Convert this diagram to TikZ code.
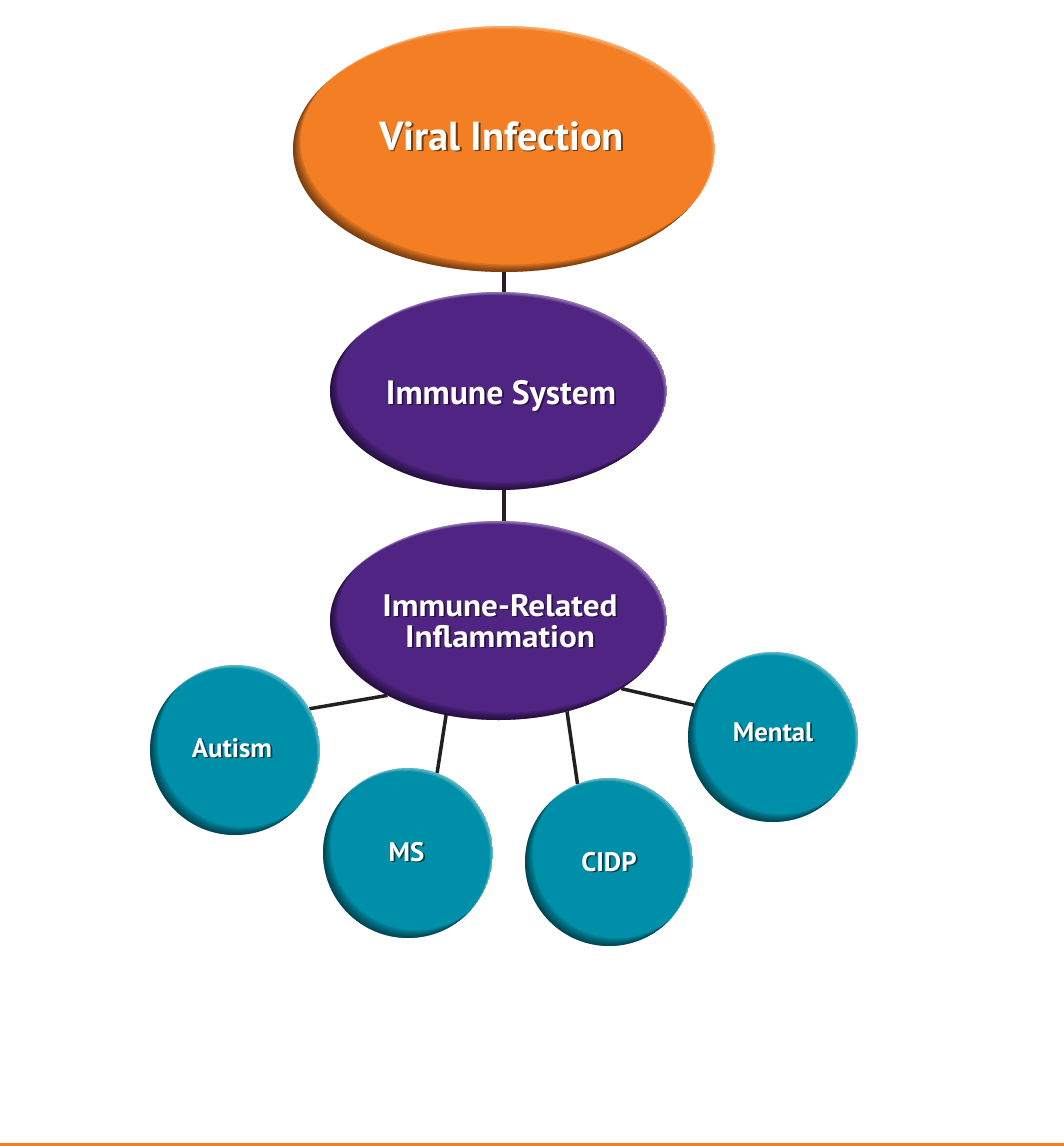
\documentclass[tikz,border=0pt]{standalone}
\usepackage{fontspec}
\setmainfont{PT Sans}
\newfontfamily\widesans[FakeStretch=1.07]{PT Sans}
\usetikzlibrary{shapes.geometric}

\definecolor{viralorange}{RGB}{243,126,35}
\definecolor{immunepurple}{RGB}{80,36,130}
\definecolor{diseaseteal}{RGB}{0,143,168}
\definecolor{linkgray}{RGB}{35,31,32}

\pgfdeclarelayer{paper}
\pgfdeclarelayer{bg}
\pgfsetlayers{paper,bg,main}

\tikzset{
  hub/.style={shape=ellipse, draw=none, inner sep=0pt, outer sep=0pt},
  lbl/.style={anchor=base, inner sep=0pt, outer sep=0pt, text=white, align=center},
  link/.style={draw=linkgray, line width=3.5pt},
  rule/.style={fill=viralorange},
}

% bevelled bubble: name, x, y, x radius, y radius, colour
\newcommand\bubble[6]{%
  \begin{scope}
    \clip (#2,#3) ellipse ({#4} and {#5});
    \fill[#6] (#2,#3) ellipse ({#4} and {#5});
    \foreach \d in {1.5,3,4.5,6,7.5}
      \fill[black,opacity=0.12,even odd rule]
        (#2,#3) ellipse ({#4+15} and {#5+15})
        (#2+\d,#3-\d) ellipse ({#4} and {#5});
    \foreach \d in {1,2,3}
      \fill[white,opacity=0.14,even odd rule]
        (#2,#3) ellipse ({#4+15} and {#5+15})
        (#2-\d,#3+\d) ellipse ({#4} and {#5});
  \end{scope}
  \node[hub, minimum width={2*#4}, minimum height={2*#5}] (#1) at (#2,#3) {};
}

% one line of white text over a darker copy shifted down and right
\newcommand\shadowed[2]{\rlap{\kern1.7pt\raisebox{-1.7pt}{\color{#1}#2}}#2}

\begin{document}
\begin{tikzpicture}[x=1pt, y=-1pt]
  \useasboundingbox (0,0) rectangle (1064,1146);
  \begin{pgfonlayer}{paper}
    \fill[white] (0,0) rectangle (1064,1146);
  \end{pgfonlayer}

  % chain of causes
  \bubble{vi}{504}{149}{211}{123}{viralorange}
  \bubble{is}{498.5}{391}{168.5}{99}{immunepurple}
  \bubble{iri}{498.5}{620.5}{168.5}{99.5}{immunepurple}

  % related conditions
  \bubble{au}{235}{750}{85}{85}{diseaseteal}
  \bubble{ms}{408}{853}{85}{85}{diseaseteal}
  \bubble{cidp}{609}{862}{84}{84}{diseaseteal}
  \bubble{me}{773}{737}{85}{85}{diseaseteal}

  % labels
  \node[lbl, font=\fontsize{40.5}{40.5}\selectfont\bfseries] (vi-t) at (501.5,150)
    {\shadowed{viralorange!45!black}{Viral Infection}};
  \node[lbl, font=\fontsize{33.7}{33.7}\selectfont\bfseries] (is-t) at (501,404)
    {\shadowed{immunepurple!50!black}{Immune System}};
  \node[lbl, font=\widesans\fontsize{31}{31.2}\selectfont\bfseries] (iri-t) at (500,647.2)
    {\shadowed{immunepurple!50!black}{Immune-Related}\\\shadowed{immunepurple!50!black}{Inflammation}};
  \node[lbl, font=\fontsize{26.8}{26.8}\selectfont\bfseries] (au-t) at (232,757)
    {\shadowed{diseaseteal!45!black}{Autism}};
  \node[lbl, font=\fontsize{26.8}{26.8}\selectfont\bfseries] (ms-t) at (406.5,861)
    {\shadowed{diseaseteal!45!black}{MS}};
  \node[lbl, font=\fontsize{26.8}{26.8}\selectfont\bfseries] (cidp-t) at (609,871)
    {\shadowed{diseaseteal!45!black}{CIDP}};
  \node[lbl, font=\fontsize{26.8}{26.8}\selectfont\bfseries] (me-t) at (773,741)
    {\shadowed{diseaseteal!45!black}{Mental}};

  % connectors, kept behind the bubbles
  \begin{pgfonlayer}{bg}
    \draw[link] (vi.south) -- (vi.south |- is.north);
    \draw[link] (vi.south |- is.south) -- (vi.south |- iri.north);
    \draw[link] (iri.214) -- (au.29);
    \draw[link] (iri.241) -- (ms.70);
    \draw[link] (iri.307) -- (cidp.112);
    \draw[link] (iri.331) -- (me.158);
  \end{pgfonlayer}

  % orange rule along the bottom edge
  \fill[rule] (0,1142.5) coordinate (rule-l) rectangle (1064,1146) coordinate (rule-r);
\end{tikzpicture}
\end{document}
